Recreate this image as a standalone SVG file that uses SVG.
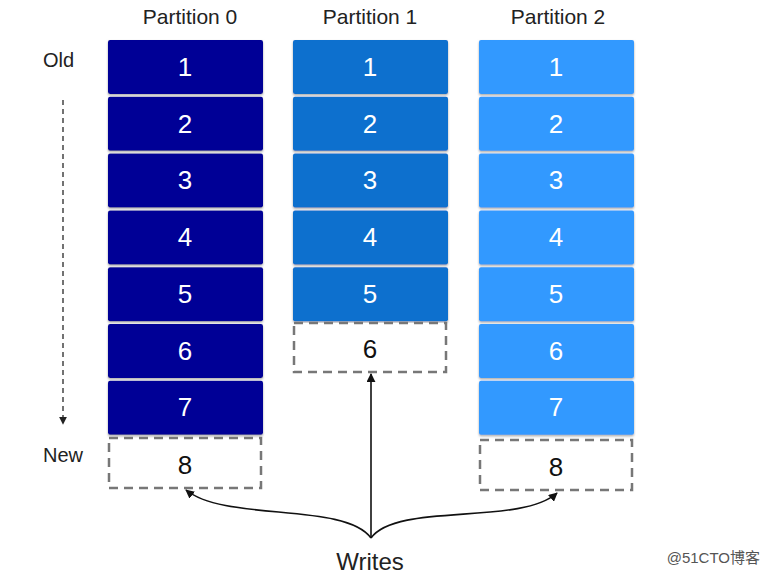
<svg xmlns="http://www.w3.org/2000/svg" width="770" height="575" viewBox="0 0 770 575">
<defs>
<style>
.lbl{font-family:"Liberation Sans",Arial,sans-serif;font-size:21px;fill:#222;text-anchor:middle}
.wr{font-family:"Liberation Sans",Arial,sans-serif;font-size:24px;fill:#222;text-anchor:middle}
.side{font-family:"Liberation Sans",Arial,sans-serif;font-size:20px;fill:#222}
.num{font-family:"Liberation Sans",Arial,sans-serif;font-size:26px;fill:#fff;text-anchor:middle}
.numd{font-family:"Liberation Sans",Arial,sans-serif;font-size:26px;fill:#111;text-anchor:middle}
.p0{fill:#000096}
.p1{fill:#0a6fce}
.p2{fill:#3399ff}
.dash{fill:#fff;stroke:#777;stroke-width:2.5;stroke-dasharray:9,6}
.cell{filter:url(#sh)}
.conn{fill:none;stroke:#111;stroke-width:1.6}
</style>
<filter id="sh" x="-5%" y="-5%" width="110%" height="120%">
<feDropShadow dx="0" dy="1.5" stdDeviation="1" flood-color="#888" flood-opacity="0.7"/>
</filter>
<marker id="ah" viewBox="0 0 10 10" refX="9" refY="5" markerWidth="9" markerHeight="9" orient="auto-start-reverse" markerUnits="userSpaceOnUse">
<path d="M0,0 L10,5 L0,10 z" fill="#111"/>
</marker>
<marker id="ah2" viewBox="0 0 10 10" refX="9" refY="5" markerWidth="8" markerHeight="8" orient="auto" markerUnits="userSpaceOnUse">
<path d="M0,0 L10,5 L0,10 z" fill="#222"/>
</marker>
</defs>
<rect width="770" height="575" fill="#fff"/>

<text class="lbl" x="190" y="24">Partition 0</text>
<text class="lbl" x="370" y="24">Partition 1</text>
<text class="lbl" x="558" y="24">Partition 2</text>

<text class="side" x="43" y="67">Old</text>
<text class="side" x="43" y="462">New</text>

<g id="partition0">
<g class="cell p0">
<rect x="108" y="40" width="155" height="54" rx="2"/>
<rect x="108" y="96.8" width="155" height="54" rx="2"/>
<rect x="108" y="153.6" width="155" height="54" rx="2"/>
<rect x="108" y="210.4" width="155" height="54" rx="2"/>
<rect x="108" y="267.2" width="155" height="54" rx="2"/>
<rect x="108" y="324" width="155" height="54" rx="2"/>
<rect x="108" y="380.8" width="155" height="54" rx="2"/>
</g>
<text class="num" x="185" y="76">1</text>
<text class="num" x="185" y="133">2</text>
<text class="num" x="185" y="189">3</text>
<text class="num" x="185" y="246">4</text>
<text class="num" x="185" y="303">5</text>
<text class="num" x="185" y="360">6</text>
<text class="num" x="185" y="416">7</text>
<rect class="dash" x="109" y="438" width="152" height="50"/>
<text class="numd" x="185" y="474">8</text>
</g>

<g id="partition1">
<g class="cell p1">
<rect x="293" y="40" width="155" height="54" rx="2"/>
<rect x="293" y="96.8" width="155" height="54" rx="2"/>
<rect x="293" y="153.6" width="155" height="54" rx="2"/>
<rect x="293" y="210.4" width="155" height="54" rx="2"/>
<rect x="293" y="267.2" width="155" height="54" rx="2"/>
</g>
<text class="num" x="370" y="76">1</text>
<text class="num" x="370" y="133">2</text>
<text class="num" x="370" y="189">3</text>
<text class="num" x="370" y="246">4</text>
<text class="num" x="370" y="303">5</text>
<rect class="dash" x="294" y="323" width="152" height="49"/>
<text class="numd" x="370" y="358">6</text>
</g>

<g id="partition2">
<g class="cell p2">
<rect x="479" y="40" width="155" height="54" rx="2"/>
<rect x="479" y="96.8" width="155" height="54" rx="2"/>
<rect x="479" y="153.6" width="155" height="54" rx="2"/>
<rect x="479" y="210.4" width="155" height="54" rx="2"/>
<rect x="479" y="267.2" width="155" height="54" rx="2"/>
<rect x="479" y="324" width="155" height="54" rx="2"/>
<rect x="479" y="380.8" width="155" height="54" rx="2"/>
</g>
<text class="num" x="556" y="76">1</text>
<text class="num" x="556" y="133">2</text>
<text class="num" x="556" y="189">3</text>
<text class="num" x="556" y="246">4</text>
<text class="num" x="556" y="303">5</text>
<text class="num" x="556" y="360">6</text>
<text class="num" x="556" y="416">7</text>
<rect class="dash" x="480" y="440" width="152" height="50"/>
<text class="numd" x="556" y="476">8</text>
</g>

<g id="connectors">
<line x1="63" y1="100" x2="63" y2="424" stroke="#444" stroke-width="1.5" stroke-dasharray="5,4" marker-end="url(#ah2)"/>
<path class="conn" d="M371,538 L371,374" marker-end="url(#ah)"/>
<path class="conn" d="M371,538 C345,502 225,522 186,490" marker-end="url(#ah)"/>
<path class="conn" d="M371,538 C397,502 520,526 557,493" marker-end="url(#ah)"/>
</g>

<text class="wr" x="370" y="570">Writes</text>
<text x="760" y="563" font-family="'Liberation Sans','Noto Sans CJK SC',sans-serif" font-size="15" fill="#555" text-anchor="end">@51CTO博客</text>
</svg>
